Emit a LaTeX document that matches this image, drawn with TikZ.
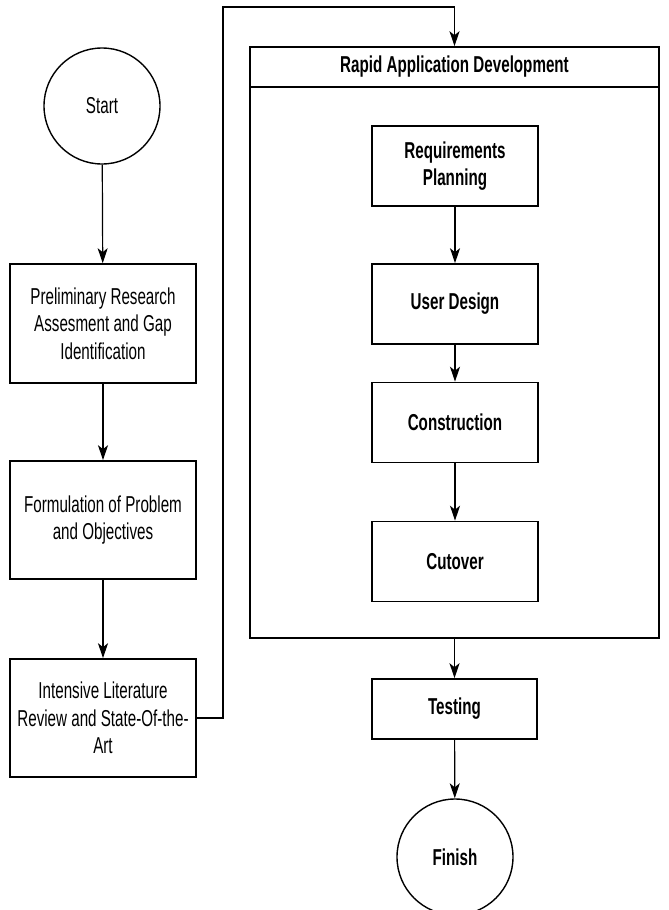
\documentclass[tikz,border=0pt]{standalone}
\usepackage{fontspec}
\setmainfont{Liberation Sans}[FakeStretch=0.66]
\usetikzlibrary{arrows.meta}

\begin{document}
\begin{tikzpicture}[x=1pt,y=-1pt,
        box/.style={draw=black,line width=1.6pt,rectangle,inner sep=0pt,align=center,font=\fontsize{23}{27.5}\selectfont},
        bbox/.style={box,font=\fontsize{23}{27.5}\selectfont\bfseries},
        term/.style={draw=black,line width=1.4pt,circle,inner sep=0pt,minimum size=116pt},
        arr/.style={line width=1.2pt,-{Stealth[length=15pt,width=10pt,inset=4pt]}}]
        \useasboundingbox (0,0) rectangle (669,910);

        % left column
        \node[term,font=\fontsize{23}{27.5}\selectfont] (start) at (102,106) {Start};
        \node[box,minimum width=186pt,minimum height=119pt] (prelim) at (103,323.5) {Preliminary Research\\Assesment and Gap\\Identification};
        \node[box,minimum width=186pt,minimum height=118pt] (formul) at (103,520) {Formulation of Problem\\and Objectives};
        \node[box,minimum width=186pt,minimum height=118pt] (intens) at (103,718) {Intensive Literature\\Review and State-Of-the-\\Art};

        % RAD container
        \node[box,minimum width=409pt,minimum height=591pt] (rad) at (454.5,342.5) {};
        \node[bbox,minimum width=409pt,minimum height=40pt] (radhead) at (454.5,67) {Rapid Application Development};
        \node[bbox,minimum width=166pt,minimum height=80pt] (req) at (455,166) {Requirements\\Planning};
        \node[bbox,minimum width=166pt,minimum height=80pt] (design) at (455,304) {User Design};
        \node[bbox,minimum width=166pt,minimum height=80pt] (constr) at (455,422.5) {Construction};
        \node[bbox,minimum width=166pt,minimum height=80pt] (cutover) at (455,561.5) {Cutover};

        % right column below
        \node[bbox,minimum width=165pt,minimum height=60pt] (testing) at (454.5,709) {Testing};
        \node[term,font=\fontsize{23}{27.5}\selectfont\bfseries] (finish) at (455,857) {Finish};

        \coordinate (loop) at (223,7);

        \draw[arr] (start) -- (prelim);
        \draw[arr] (prelim) -- (formul);
        \draw[arr] (formul) -- (intens);
        \draw[arr] (intens.east) -| (loop) -| (radhead.north);
        \draw[arr] (req) -- (design);
        \draw[arr] (design) -- (constr);
        \draw[arr] (constr) -- (cutover);
        \draw[arr] (rad.south) -- (testing);
        \draw[arr] (testing) -- (finish);
    \end{tikzpicture}
\end{document}
